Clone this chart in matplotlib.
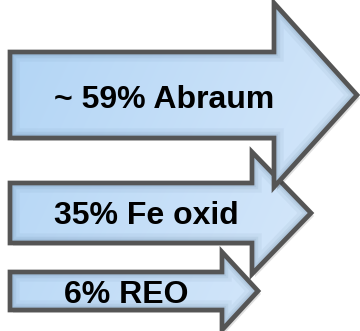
import numpy as np
import matplotlib.pyplot as plt
from matplotlib.patches import Polygon

# data
labels = ["~ 59% Abraum", "35% Fe oxid", "6% REO"]
shares = [59, 35, 6]

# layout (pixel coords, y down)
BODY_LEFT  = [10, 10, 10]
BODY_RIGHT = [274, 252, 222]
TIP_X      = [357, 311, 258]
CENTER_Y   = [95, 213, 291]
BODY_HALF  = [43, 30, 19]
HEAD_HALF  = [92, 61, 39]
TEXT_X     = [164, 146, 126]
TEXT_BASE  = [108, 224, 303]

EDGE = "#555555"
C_LIGHT = np.array([0.86, 0.92, 0.985])
C_DARK = np.array([0.69, 0.83, 0.96])

W, H = 360, 331
fig = plt.figure(figsize=(W / 100, H / 100), dpi=100)
ax = fig.add_axes([0, 0, 1, 1])
ax.set_xlim(0, W)
ax.set_ylim(H, 0)
ax.axis("off")

# diagonal gradient image used as fill
yy, xx = np.mgrid[0:H, 0:W]
t = np.clip((xx / W * 0.7 + yy / H * 0.3), 0, 1)[..., None]
grad = C_DARK * (1 - t) + C_LIGHT * t


def arrow_pts(i):
    x0, x1, tip = BODY_LEFT[i], BODY_RIGHT[i], TIP_X[i]
    cy, bh, hh = CENTER_Y[i], BODY_HALF[i], HEAD_HALF[i]
    return [(x0, cy - bh), (x1, cy - bh), (x1, cy - hh), (tip, cy),
            (x1, cy + hh), (x1, cy + bh), (x0, cy + bh)]


for i in reversed(range(len(labels))):
    pts = arrow_pts(i)
    z = 10 - i * 3
    # drop shadow
    sh = Polygon([(x + 3, y + 3) for x, y in pts], closed=True,
                 fc="#000000", ec="none", alpha=0.12, zorder=z)
    ax.add_patch(sh)
    clip = Polygon(pts, closed=True, fc="none", ec="none")
    ax.add_patch(clip)
    im = ax.imshow(grad, extent=(0, W, H, 0), zorder=z + 0.1,
                   interpolation="bilinear")
    im.set_clip_path(clip)
    # soft inner shadow
    for lw, a in [(14, 0.05), (9, 0.07), (6, 0.08)]:
        p = Polygon(pts, closed=True, fc="none", ec="#30506e",
                    lw=lw, alpha=a, zorder=z + 0.2, joinstyle="miter")
        ax.add_patch(p)
        p.set_clip_path(clip)
    ax.add_patch(Polygon(pts, closed=True, fc="none", ec=EDGE, lw=3.4,
                         zorder=z + 0.3, joinstyle="miter"))
    ax.text(TEXT_X[i], TEXT_BASE[i], labels[i], ha="center", va="baseline",
            fontsize=23, fontweight="bold", family="Liberation Sans",
            color="black", zorder=z + 0.4)

fig.savefig("out.png", dpi=100, facecolor="white")
